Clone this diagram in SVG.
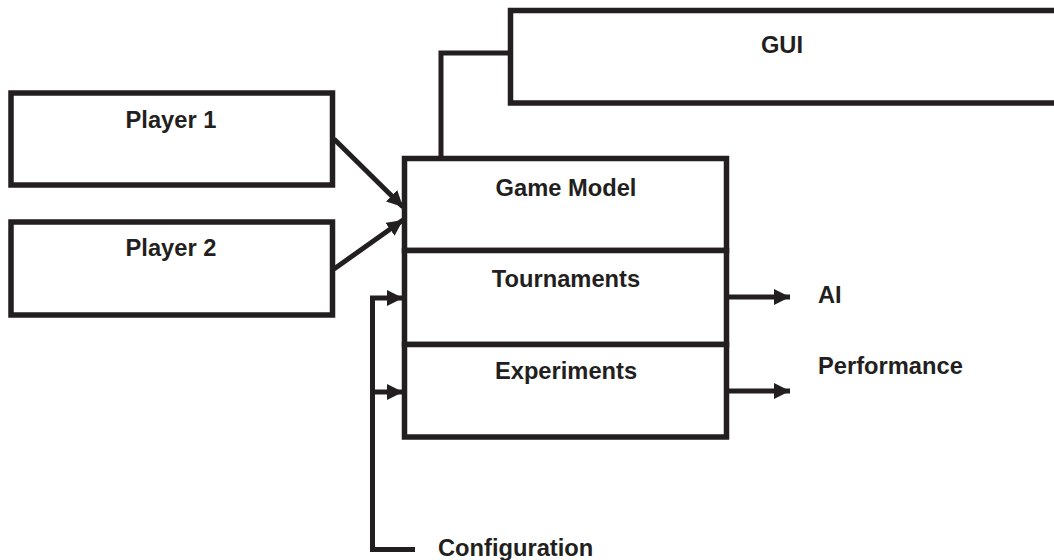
<svg xmlns="http://www.w3.org/2000/svg" width="1054" height="560" viewBox="0 0 1054 560">
<defs>
<style>
.box{fill:#fff;stroke:#231f20;stroke-width:5.5}
.ln{fill:none;stroke:#231f20;stroke-width:5}
.t{font-family:"Liberation Sans",Arial,sans-serif;font-weight:bold;font-size:23.7px;fill:#231f20}
.c{text-anchor:middle}
</style>
<marker id="ah" viewBox="0 0 10 10" refX="10" refY="5" markerWidth="3.2" markerHeight="3.2" markerUnits="strokeWidth" orient="auto">
<path d="M0,0 L10,5 L0,10 z" fill="#231f20"/>
</marker>
</defs>
<rect width="1054" height="560" fill="#fff"/>
<g id="connectors">
<polyline class="ln" points="441,158 441,53 510,53"/>
<line class="ln" x1="334" y1="139" x2="403" y2="207" marker-end="url(#ah)"/>
<line class="ln" x1="334" y1="269" x2="403" y2="220" marker-end="url(#ah)"/>
<polyline class="ln" points="415,549.5 372.5,549.5 372.5,298 403,298" marker-end="url(#ah)"/>
<line class="ln" x1="372.5" y1="392" x2="403" y2="392" marker-end="url(#ah)"/>
<line class="ln" x1="727" y1="297" x2="790" y2="297" marker-end="url(#ah)"/>
<line class="ln" x1="727" y1="391" x2="790" y2="391" marker-end="url(#ah)"/>
</g>
<g id="gui">
<rect class="box" x="510.5" y="10.5" width="560" height="92.5"/>
<text class="t c" x="782" y="53">GUI</text>
</g>
<g id="player1">
<rect class="box" x="11" y="93" width="321.5" height="92"/>
<text class="t c" x="171" y="128">Player 1</text>
</g>
<g id="player2">
<rect class="box" x="11" y="222" width="321.5" height="93"/>
<text class="t c" x="171" y="256">Player 2</text>
</g>
<g id="game-model">
<rect class="box" x="404.5" y="158.5" width="322" height="92"/>
<text class="t c" x="566" y="196">Game Model</text>
</g>
<g id="tournaments">
<rect class="box" x="404.5" y="250.5" width="322" height="94"/>
<text class="t c" x="566" y="287">Tournaments</text>
</g>
<g id="experiments">
<rect class="box" x="404.5" y="344.5" width="322" height="92.5"/>
<text class="t c" x="566" y="379">Experiments</text>
</g>
<g id="ai"><text class="t" x="818" y="303">AI</text></g>
<g id="performance"><text class="t" x="818" y="374">Performance</text></g>
<g id="configuration"><text class="t" x="438" y="556">Configuration</text></g>
</svg>
